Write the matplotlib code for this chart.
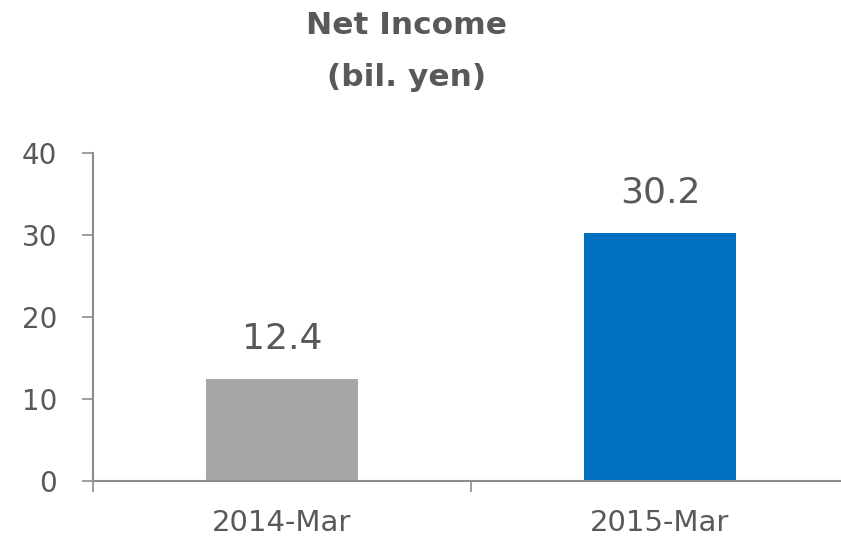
import matplotlib
matplotlib.use("Agg")
import matplotlib.pyplot as plt

categories = ["2014-Mar", "2015-Mar"]
net_income = [12.4, 30.2]
bar_colors = ["#A6A6A6", "#0070C0"]
y_ticks = [0, 10, 20, 30, 40]

text_color = "#595959"
axis_color = "#8C8C8C"

fig = plt.figure(figsize=(8.41, 5.37), dpi=100)
ax = fig.add_axes([93 / 841, 56 / 537, 756 / 841, 328 / 537])

x = list(range(len(categories)))
ax.bar(x, net_income, width=0.4, color=bar_colors)

for xi, v in zip(x, net_income):
    ax.annotate(f"{v:.1f}", (xi, v), xytext=(0, 17), textcoords="offset points",
                ha="center", va="bottom", fontsize=26, color=text_color)

ax.set_xlim(-0.5, len(categories) - 0.5)
ax.set_ylim(0, 40)
ax.set_yticks(y_ticks)
ax.set_yticklabels([str(t) for t in y_ticks], fontsize=20, color=text_color)

# ticks sit on the category boundaries, labels centred under the bars
ax.set_xticks([i - 0.5 for i in range(len(categories) + 1)])
ax.set_xticklabels([])
ax.set_xticks(x, minor=True)
ax.set_xticklabels(categories, minor=True, fontsize=21, color=text_color)
ax.tick_params(axis="x", which="minor", length=0, pad=20)
ax.tick_params(axis="x", which="major", length=8, color=axis_color, width=1.2)
ax.tick_params(axis="y", length=8, color=axis_color, width=1.2, pad=18)

for side in ["top", "right"]:
    ax.spines[side].set_visible(False)
for side in ["left", "bottom"]:
    ax.spines[side].set_color(axis_color)
    ax.spines[side].set_linewidth(1.5)

fig.text(407 / 841, 1 - 25 / 537, "Net Income", ha="center", va="center",
         fontsize=22.5, fontweight="bold", color=text_color)
fig.text(407 / 841, 1 - 78 / 537, "(bil. yen)", ha="center", va="center",
         fontsize=22.5, fontweight="bold", color=text_color)

fig.savefig("out.png", dpi=100)
